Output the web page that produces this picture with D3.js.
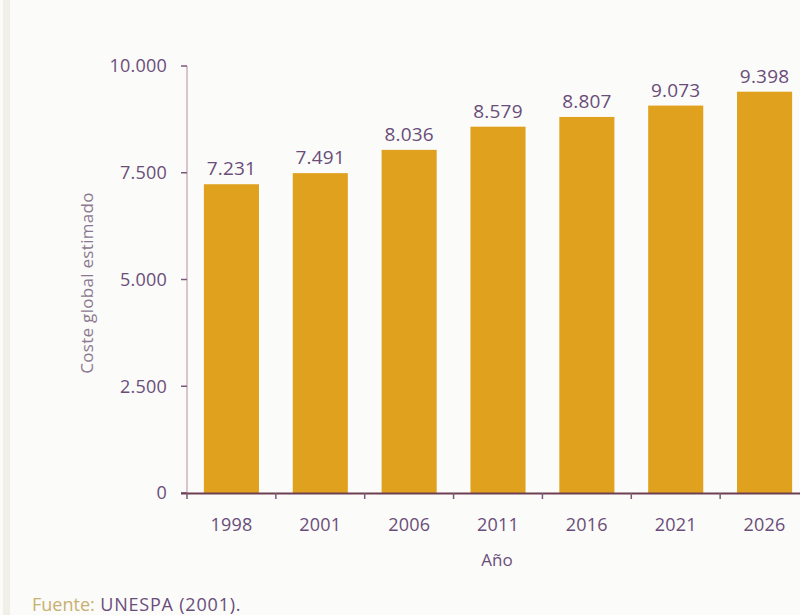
<!DOCTYPE html>
<html><head><meta charset="utf-8">
<script src="https://cdn.jsdelivr.net/npm/d3@7"></script>
<style>
html,body{margin:0;padding:0;background:#fbfbfa;}
svg{display:block;font-family:"Open Sans","Noto Sans",sans-serif;}
</style></head>
<body>
<svg id="c" width="800" height="615"></svg>
<script>
const years = ["1998","2001","2006","2011","2016","2021","2026"];
const costs = [7231,7491,8036,8579,8807,9073,9398];
const costLabels = ["7.231","7.491","8.036","8.579","8.807","9.073","9.398"];
const yTicks = [0,2500,5000,7500,10000];
const yTickLabels = ["0","2.500","5.000","7.500","10.000"];

const svg = d3.select("#c");
svg.append("rect").attr("x",0).attr("y",0).attr("width",800).attr("height",615).attr("fill","#fbfbfa");
svg.append("rect").attr("x",3).attr("y",0).attr("width",7).attr("height",615).attr("fill","#f1f0e8");

const purple = "#6a4d79";
const x = d3.scaleBand().domain(years).range([187,809]).paddingInner(0.38).paddingOuter(0.19);
const y = d3.scaleLinear().domain([0,10000]).range([493,66]);

// y axis line
svg.append("line").attr("x1",187).attr("x2",187).attr("y1",y(10000)).attr("y2",y(0))
  .attr("stroke","#dcc3d0").attr("stroke-width",2);
// y ticks
const yg = svg.append("g");
yTicks.forEach((t,i)=>{
  yg.append("line").attr("x1",181).attr("x2",187).attr("y1",y(t)).attr("y2",y(t))
    .attr("stroke","#7a5a78").attr("stroke-width",1.5);
  yg.append("text").attr("x",167).attr("y",y(t)).attr("dy","0.35em")
    .attr("text-anchor","end").attr("fill",purple).attr("font-size",18)
    .attr("letter-spacing","0.2").text(yTickLabels[i]);
});

// bars
svg.append("g").selectAll("rect").data(costs).join("rect")
  .attr("x",(d,i)=>x(years[i]))
  .attr("width",x.bandwidth())
  .attr("y",d=>y(d))
  .attr("height",d=>y(0)-y(d))
  .attr("fill","#e0a21e");

// value labels
svg.append("g").selectAll("text").data(costs).join("text")
  .attr("x",(d,i)=>x(years[i])+x.bandwidth()/2)
  .attr("y",d=>y(d)-9)
  .attr("text-anchor","middle").attr("fill",purple).attr("font-size",19)
  .attr("letter-spacing","0.2")
  .text((d,i)=>costLabels[i]);

// x axis line
svg.append("line").attr("x1",181).attr("x2",800).attr("y1",y(0)+0.5).attr("y2",y(0)+0.5)
  .attr("stroke","#6e3f52").attr("stroke-width",2);
const step = x.step();
years.forEach((yr,i)=>{
  const bx = x(yr) - step*x.paddingInner()/2;
  svg.append("line").attr("x1",bx).attr("x2",bx).attr("y1",y(0)).attr("y2",y(0)+6)
    .attr("stroke","#7a5a78").attr("stroke-width",1.5);
  svg.append("text").attr("x",x(yr)+x.bandwidth()/2).attr("y",531)
    .attr("text-anchor","middle").attr("fill",purple).attr("font-size",18)
    .attr("letter-spacing","0.2").text(yr);
});

// axis titles
svg.append("text").attr("x",497).attr("y",566).attr("text-anchor","middle")
  .attr("fill",purple).attr("font-size",17).text("Año");
svg.append("text").attr("transform","translate(93,283) rotate(-90)")
  .attr("text-anchor","middle").attr("fill","#8c7890").attr("font-size",17)
  .attr("letter-spacing","0.3").text("Coste global estimado");

// source
const src = svg.append("text").attr("x",32).attr("y",611).attr("font-size",18);
src.append("tspan").attr("fill","#c8b070").text("Fuente:");
src.append("tspan").attr("fill",purple).attr("letter-spacing","0.8").text(" UNESPA (2001).");
</script>
</body></html>
